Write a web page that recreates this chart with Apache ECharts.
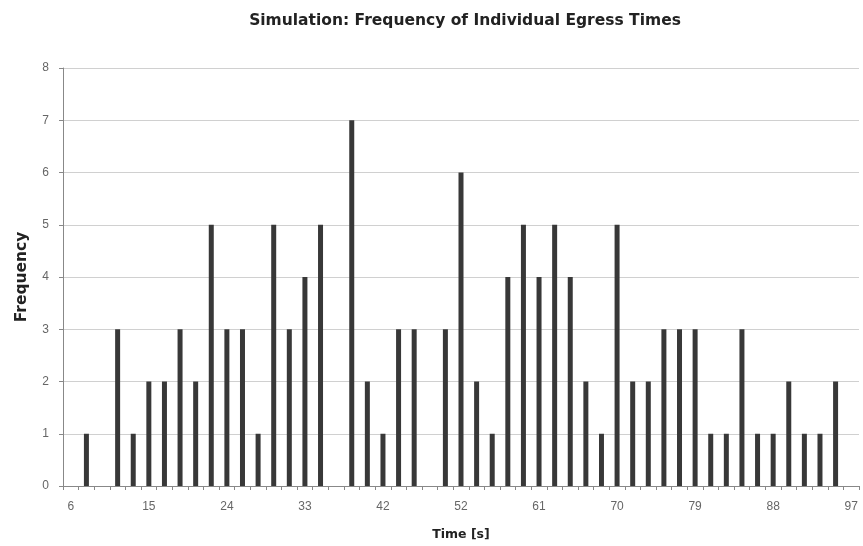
<!DOCTYPE html>
<html>
<head>
<meta charset="utf-8">
<script src="https://cdn.jsdelivr.net/npm/echarts@6/dist/echarts.min.js"></script>
<style>
html,body{margin:0;padding:0;background:#fff;}
#chart{width:863px;height:546px;}
</style>
</head>
<body>
<div id="chart"></div>
<script>
// Time categories [s] (bin centres, rounded)
const categories = ['6','8','10','11','13','15','17','19','21','22','24','26','28','30','31','33','35','37','39','41','42','44','46','48','50','52','53','55','57','59','61','62','64','66','68','70','72','73','75','77','79','81','82','84','86','88','90','92','93','95','97'];
// Frequency per bin
const frequency = [0,1,0,3,1,2,2,3,2,5,3,3,1,5,3,4,5,0,7,2,1,3,3,0,3,6,2,1,4,5,4,5,4,2,1,5,2,2,3,3,3,1,1,3,1,1,2,1,1,2,0];
const yTicks = [0,1,2,3,4,5,6,7,8];

const chart = echarts.init(document.getElementById('chart'), null, {renderer:'canvas'});
chart.setOption({
  backgroundColor:'#ffffff',
  animation:false,
  title:{
    text:'Simulation: Frequency of Individual Egress Times',
    left:460, top:8, textAlign:'center',
    textStyle:{fontFamily:'DejaVu Sans', fontWeight:'bold', fontSize:15.5, color:'#222'}
  },
  grid:{left:63, right:4, top:68, bottom:59, containLabel:false},
  xAxis:{
    type:'category',
    data:categories,
    name:'Time [s]',
    nameLocation:'middle',
    nameGap:42,
    nameTextStyle:{fontFamily:'DejaVu Sans', fontWeight:'bold', fontSize:12.5, color:'#222'},
    axisLine:{lineStyle:{color:'#888', width:1}},
    axisTick:{show:true, interval:0, length:4, lineStyle:{color:'#888'}},
    axisLabel:{interval:4, color:'#666', fontFamily:'Liberation Sans', fontSize:12, margin:15},
    splitLine:{show:false}
  },
  yAxis:{
    type:'value',
    min:yTicks[0], max:yTicks[yTicks.length-1], interval:1,
    name:'Frequency',
    nameLocation:'middle',
    nameGap:33,
    nameRotate:90,
    nameTextStyle:{fontFamily:'DejaVu Sans', fontWeight:'bold', fontSize:15.5, color:'#222'},
    axisLine:{show:true, lineStyle:{color:'#888', width:1}},
    axisTick:{show:true, length:4, lineStyle:{color:'#888'}},
    axisLabel:{color:'#666', fontFamily:'Liberation Sans', fontSize:12, margin:14},
    splitLine:{show:true, lineStyle:{color:'#d0d0d0', width:1}}
  },
  series:[{
    type:'bar',
    data:frequency,
    barWidth:5,
    itemStyle:{color:'#383838'}
  }]
});
</script>
</body>
</html>
